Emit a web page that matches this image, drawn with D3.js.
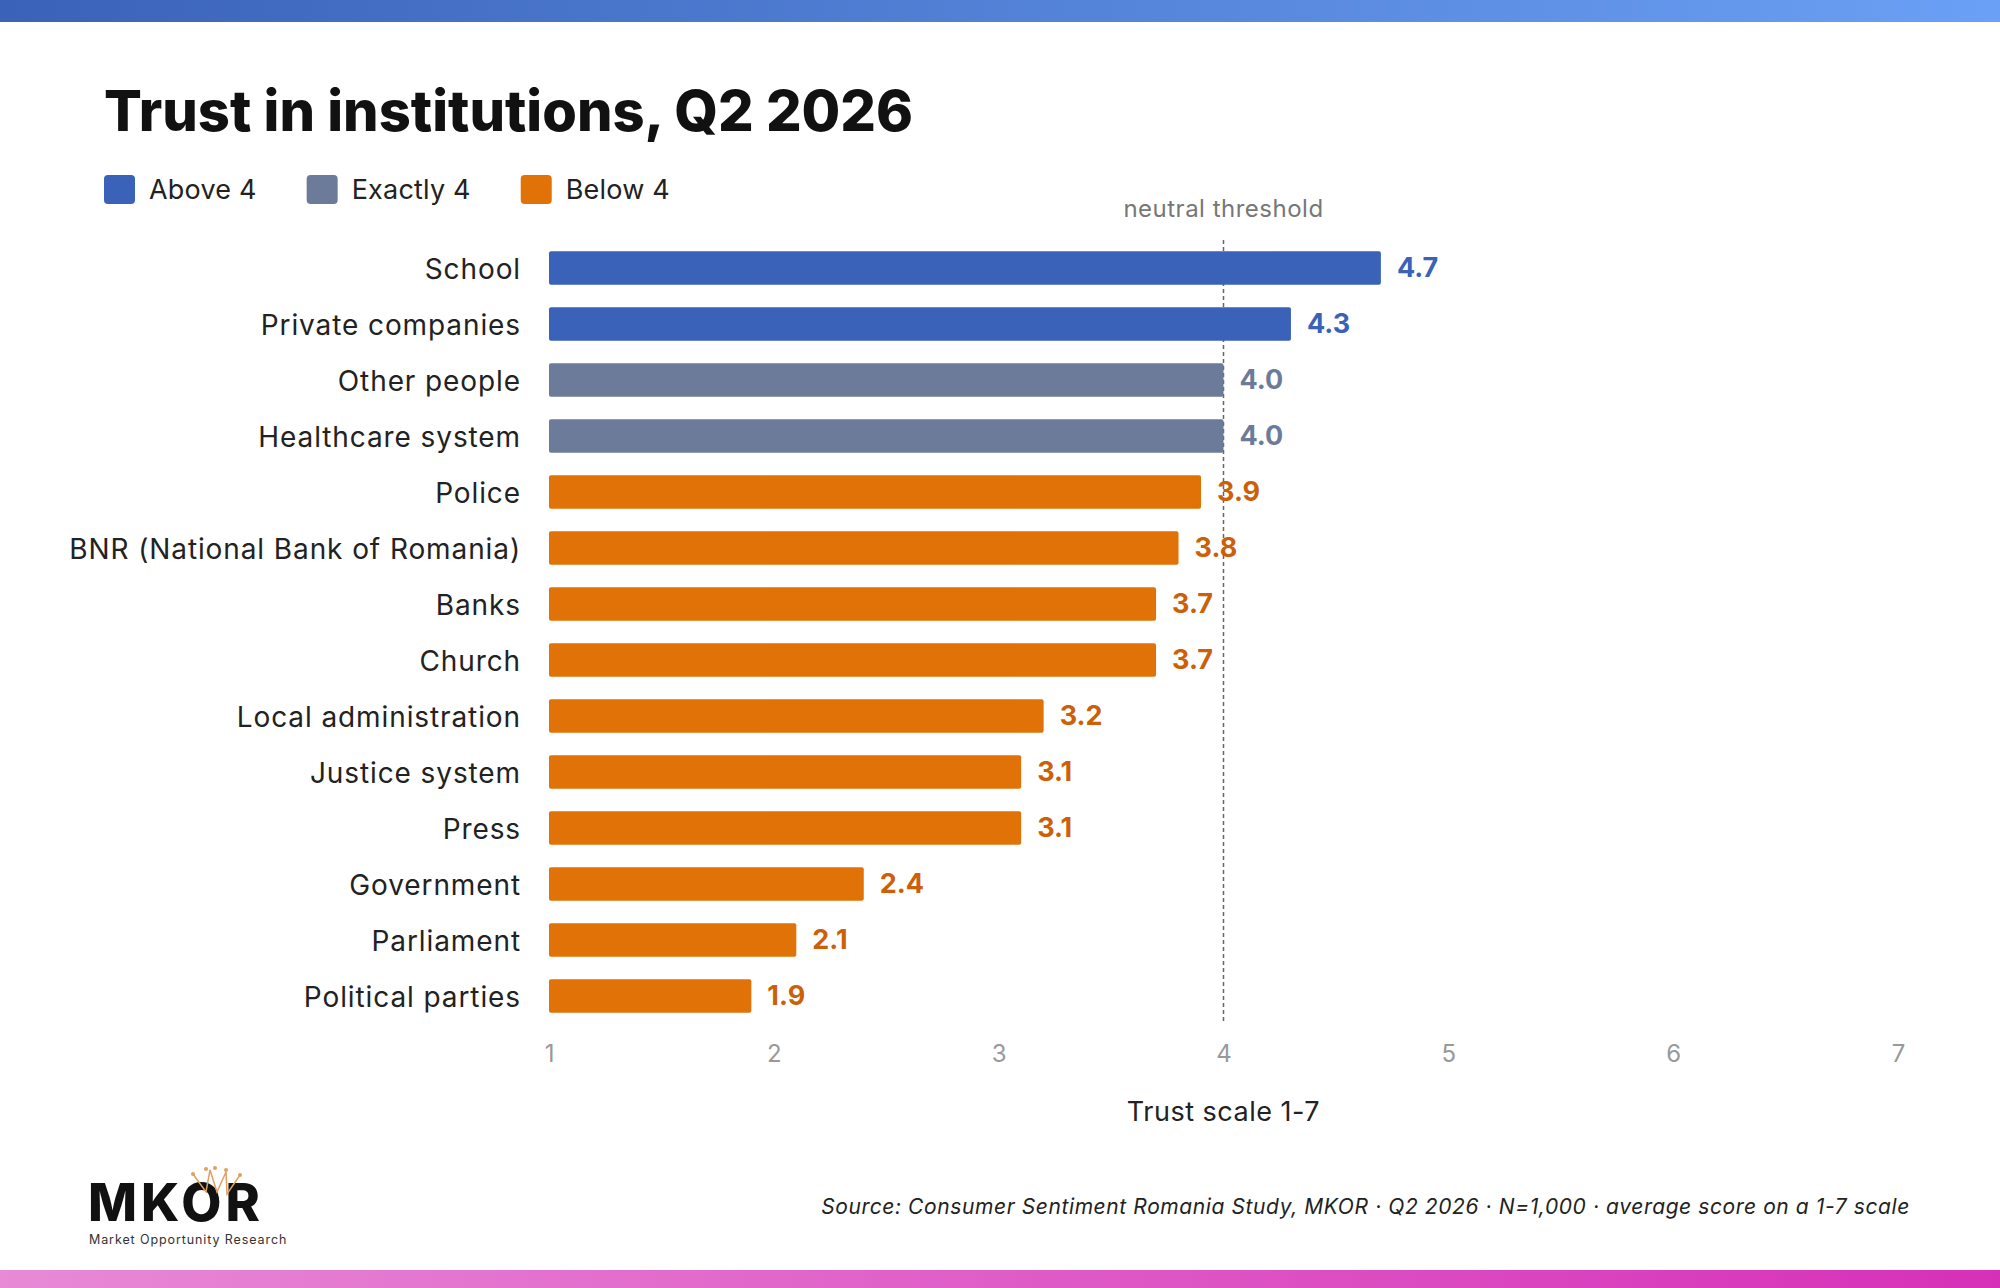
<!DOCTYPE html>
<html><head><meta charset="utf-8">
<script src="https://cdn.jsdelivr.net/npm/d3@7"></script>
<style>body{margin:0;background:#fff}svg{display:block}</style>
</head><body>
<script>
const categories=["School","Private companies","Other people","Healthcare system","Police","BNR (National Bank of Romania)","Banks","Church","Local administration","Justice system","Press","Government","Parliament","Political parties"];
const values=[4.7,4.3,4.0,4.0,3.9,3.8,3.7,3.7,3.2,3.1,3.1,2.4,2.1,1.9];
const ticks=[1,2,3,4,5,6,7];
const legendItems=["Above 4","Exactly 4","Below 4"];
const W=2000,H=1288;
const col={"Above 4":"#3a62b8","Exactly 4":"#6c7b99","Below 4":"#e07208"};
const lab={"Above 4":"#3a62b8","Exactly 4":"#6c7b99","Below 4":"#cc6008"};
const grp=v=>v>4?"Above 4":(v===4?"Exactly 4":"Below 4");
const F="Inter, 'Open Sans', sans-serif";
const svg=d3.select("body").append("svg").attr("width",W).attr("height",H);
const defs=svg.append("defs");
const g1=defs.append("linearGradient").attr("id","gt");
g1.append("stop").attr("offset","0").attr("stop-color","#3a62b8");
g1.append("stop").attr("offset","1").attr("stop-color","#6aa0f5");
const g2=defs.append("linearGradient").attr("id","gb");
g2.append("stop").attr("offset","0").attr("stop-color","#e88ad6");
g2.append("stop").attr("offset","1").attr("stop-color","#d630b8");
svg.append("rect").attr("width",W).attr("height",22).attr("fill","url(#gt)");
svg.append("rect").attr("y",1270).attr("width",W).attr("height",18).attr("fill","url(#gb)");
svg.append("text").attr("x",104).attr("y",131).attr("font-family",F).attr("font-weight",800).attr("font-size",56).attr("fill","#111").text("Trust in institutions, Q2 2026");
let lx=104;
legendItems.forEach(k=>{
  svg.append("rect").attr("x",lx).attr("y",175).attr("width",31).attr("height",29).attr("rx",4).attr("fill",col[k]);
  const t=svg.append("text").attr("x",lx+45).attr("y",199).attr("font-family",F).attr("font-size",27).attr("letter-spacing",0.2).attr("fill","#222").text(k);
  lx+=45+t.node().getComputedTextLength()+50;
});
const x=d3.scaleLinear().domain([1,7]).range([549,1898]);
const y=d3.scaleBand().domain(categories).range([240,1024]).paddingInner(0.4).paddingOuter(0.2);
svg.append("line").attr("x1",x(4)).attr("x2",x(4)).attr("y1",240).attr("y2",1024).attr("stroke","#666").attr("stroke-width",1.5).attr("stroke-dasharray","4,3");
svg.append("text").attr("x",x(4)).attr("y",217).attr("text-anchor","middle").attr("font-family",F).attr("font-size",24).attr("letter-spacing",0.5).attr("fill","#777").text("neutral threshold");
const data=categories.map((c,i)=>({c,v:values[i]}));
svg.selectAll(".bar").data(data).join("rect").attr("x",x(1)).attr("y",d=>y(d.c)).attr("width",d=>x(d.v)-x(1)).attr("height",y.bandwidth()).attr("rx",2).attr("fill",d=>col[grp(d.v)]);
svg.selectAll(".vl").data(data).join("text").attr("x",d=>x(d.v)+16).attr("y",d=>y(d.c)+y.bandwidth()/2).attr("dy","0.35em").attr("font-family",F).attr("font-weight",700).attr("font-size",27).attr("fill",d=>lab[grp(d.v)]).text(d=>d.v.toFixed(1));
svg.selectAll(".cl").data(data).join("text").attr("x",521).attr("y",d=>y(d.c)+y.bandwidth()/2).attr("dy","0.38em").attr("text-anchor","end").attr("font-family",F).attr("font-size",28).attr("letter-spacing",0.9).attr("fill","#222").text(d=>d.c);
const ax=svg.append("g").attr("transform","translate(0,1042)").call(d3.axisBottom(x).tickValues(ticks).tickSize(0).tickFormat(d3.format("d")));
ax.select(".domain").remove();
ax.selectAll("text").attr("font-family",F).attr("font-size",24).attr("fill","#999");
svg.append("text").attr("x",x(4)).attr("y",1121).attr("text-anchor","middle").attr("font-family",F).attr("font-size",27).attr("letter-spacing",0.5).attr("fill","#222").text("Trust scale 1-7");
svg.append("text").attr("x",1910).attr("y",1214).attr("text-anchor","end").attr("font-family",F).attr("font-style","italic").attr("font-size",21).attr("letter-spacing",0.6).attr("fill","#222").text("Source: Consumer Sentiment Romania Study, MKOR · Q2 2026 · N=1,000 · average score on a 1-7 scale");
// logo
svg.append("text").attr("x",88).attr("y",1221).attr("font-family",F).attr("font-weight",800).attr("font-size",52).attr("letter-spacing",4).attr("fill","#111").text("MKOR");
svg.append("text").attr("x",89).attr("y",1244).attr("font-family",F).attr("font-size",12.5).attr("fill","#333").attr("letter-spacing",0.9).text("Market Opportunity Research");
const cr=svg.append("g").attr("stroke","#e0a060").attr("fill","none").attr("stroke-width",1.5);
cr.append("path").attr("d","M193,1174 L206,1192 L210,1170 L217,1192 L226,1172 L227,1194 L240,1175");
[[193,1174],[206,1169],[215,1168],[226,1170],[240,1175]].forEach(p=>svg.append("circle").attr("cx",p[0]).attr("cy",p[1]).attr("r",2).attr("fill","#e0a060"));
</script>
</body></html>
